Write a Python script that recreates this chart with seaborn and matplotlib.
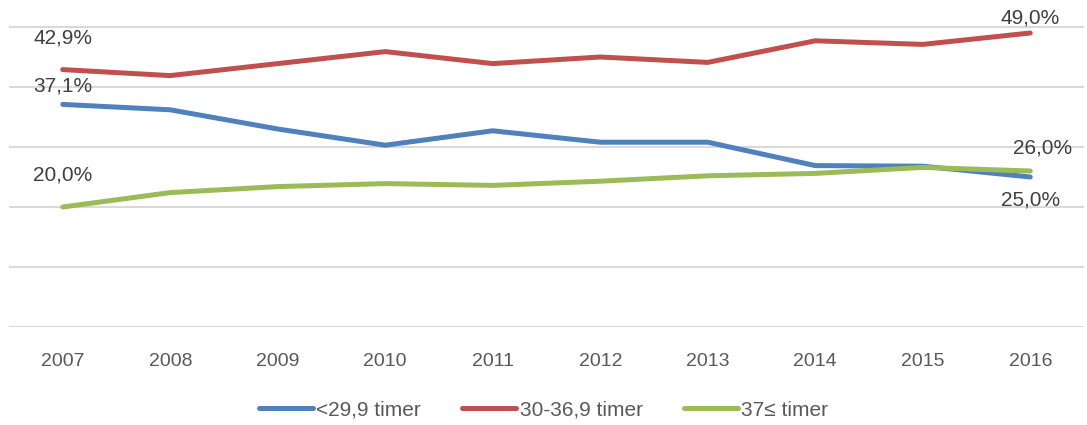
import pandas as pd
import matplotlib.pyplot as plt
import seaborn as sns

years = [2007, 2008, 2009, 2010, 2011, 2012, 2013, 2014, 2015, 2016]
under_30 = [37.1, 36.2, 33.0, 30.3, 32.7, 30.8, 30.8, 26.9, 26.8, 25.0]
mid_30_37 = [42.9, 41.9, 43.9, 45.9, 43.9, 45.0, 44.1, 47.7, 47.1, 49.0]
over_37 = [20.0, 22.4, 23.4, 23.9, 23.6, 24.3, 25.2, 25.6, 26.6, 26.0]
series_names = ['<29,9 timer', '30-36,9 timer', '37≤ timer']
colors = ['#4F81BD', '#C0504D', '#9BBB59']

df = pd.DataFrame({
    'year': years * 3,
    'value': under_30 + mid_30_37 + over_37,
    'group': [series_names[0]] * 10 + [series_names[1]] * 10 + [series_names[2]] * 10,
})

sns.set_style('white')
plt.rcParams['font.family'] = ['Liberation Sans', 'DejaVu Sans']

fig = plt.figure(figsize=(10.87, 4.25), dpi=100)
ax = fig.add_axes([9 / 1087, 1 - 327 / 425, 1075 / 1087, 327 / 425])

sns.lineplot(data=df, x='year', y='value', hue='group', palette=colors,
             linewidth=3.6, ax=ax, legend=False, solid_capstyle='round')

ax.set_xlim(2006.5, 2016.5)
ax.set_ylim(0, 54.5)
ax.set_yticks([0, 10, 20, 30, 40, 50])
ax.set_yticklabels([])
ax.set_xticks(years)
ax.set_xticklabels([str(y) for y in years], fontsize=14, color='#595959')
ax.tick_params(axis='both', length=0)
ax.tick_params(axis='x', pad=19)
ax.grid(axis='y', color='#D9D9D9', linewidth=1.5)
ax.set_axisbelow(True)
for s in ax.spines.values():
    s.set_visible(False)
ax.set_xlabel('')
ax.set_ylabel('')

# data labels on first and last points (offsets in pixels)
px = 0.72
labels = [
    (years[0], under_30[0], 0, 18),
    (years[0], mid_30_37[0], 0, 32),
    (years[0], over_37[0], 0, 32),
    (years[-1], under_30[-1], 0, -23),
    (years[-1], mid_30_37[-1], 0, 15),
    (years[-1], over_37[-1], 12, 23),
]
for x, y, dx, dy in labels:
    ax.annotate(f'{y:.1f}%'.replace('.', ','), (x, y), xytext=(dx * px, dy * px),
                textcoords='offset points', ha='center', va='center',
                fontsize=15, color='#404040', annotation_clip=False)

handles = [plt.Line2D([], [], color=c, linewidth=3.6, solid_capstyle='round') for c in colors]
fig.legend(handles, series_names, loc='center', bbox_to_anchor=(0.5, 1 - 410 / 425),
           ncol=3, frameon=False, fontsize=15, handlelength=2.6, handletextpad=0.15,
           columnspacing=2.0, labelcolor='#595959')

fig.savefig('out.png', dpi=100)
